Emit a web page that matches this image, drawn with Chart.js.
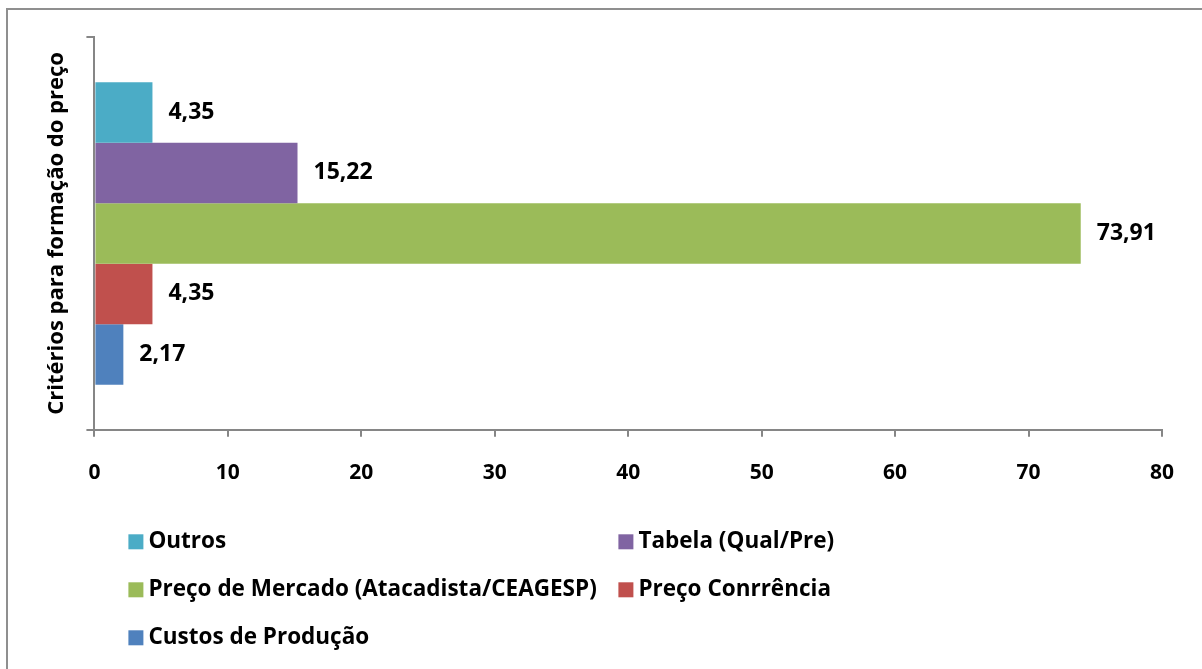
<!DOCTYPE html>
<html>
<head>
<meta charset="utf-8">
<script src="https://cdn.jsdelivr.net/npm/chart.js@4"></script>
<style>
  html, body { margin: 0; padding: 0; background: #fff; }
  #wrap { position: relative; width: 1202px; height: 669px; }
</style>
</head>
<body>
<div id="wrap"><canvas id="grafico" width="1202" height="669"></canvas></div>
<script>
// Dados do gráfico
const categorias = [''];
const series = ['Outros', 'Tabela (Qual/Pre)', 'Preço de Mercado (Atacadista/CEAGESP)', 'Preço Conrrência', 'Custos de Produção'];
const valores = [4.35, 15.22, 73.91, 4.35, 2.17];
const cores = ['#4BACC6', '#8064A2', '#9BBB59', '#C0504D', '#4F81BD'];
const ticksX = [0, 10, 20, 30, 40, 50, 60, 70, 80];
const tituloY = 'Critérios para formação do preço';

const FONTE = '"Open Sans", Lato, sans-serif';
const CINZA = '#868686';

// Moldura externa (só as bordas superior e esquerda aparecem)
const moldura = {
    id: 'moldura',
    beforeDraw(chart) {
        const ctx = chart.ctx;
        ctx.save();
        ctx.strokeStyle = '#8f8f8f';
        ctx.lineWidth = 2;
        ctx.beginPath();
        ctx.moveTo(7, 700);
        ctx.lineTo(7, 9);
        ctx.lineTo(1210, 9);
        ctx.stroke();
        ctx.restore();
    }
};

// Rótulos de valor à direita de cada barra
const rotulos = {
    id: 'rotulos',
    afterDatasetsDraw(chart) {
        const ctx = chart.ctx;
        ctx.save();
        ctx.font = 'bold 23px ' + FONTE;
        ctx.fillStyle = '#000';
        ctx.textAlign = 'left';
        ctx.textBaseline = 'middle';
        chart.data.datasets.forEach((ds, i) => {
            const bar = chart.getDatasetMeta(i).data[0];
            const txt = ds.data[0].toFixed(2).replace('.', ',');
            ctx.fillText(txt, bar.x + 16, bar.y);
        });
        ctx.restore();
    }
};

// Legenda em duas colunas
const legenda = {
    id: 'legenda',
    afterDraw(chart) {
        const ctx = chart.ctx;
        const area = chart.chartArea;
        ctx.save();
        ctx.font = 'bold 22.5px ' + FONTE;
        ctx.textBaseline = 'middle';
        ctx.textAlign = 'left';
        series.forEach((nome, i) => {
            const col = i % 2;
            const lin = Math.floor(i / 2);
            const x = area.left + 34 + col * 490;
            const y = area.bottom + 112 + lin * 48;
            ctx.fillStyle = cores[i];
            ctx.fillRect(x, y - 7.5, 15, 15);
            ctx.fillStyle = '#000';
            ctx.fillText(nome, x + 20, y);
        });
        ctx.restore();
    }
};

const datasets = series.map((nome, i) => ({
    label: nome,
    data: [valores[i]],
    backgroundColor: cores[i],
    borderWidth: 0,
    categoryPercentage: 0.77,
    barPercentage: 1.0
}));

const config = {
    type: 'bar',
    data: {
        labels: categorias,
        datasets: datasets
    },
    options: {
        indexAxis: 'y',
        responsive: false,
        animation: false,
        layout: {
            padding: { left: 40, top: 37, right: 40, bottom: 159 }
        },
        plugins: {
            legend: { display: false },
            tooltip: { enabled: false }
        },
        scales: {
            x: {
                min: 0,
                max: 80,
                afterBuildTicks: (axis) => {
                    axis.ticks = ticksX.map(v => ({ value: v }));
                },
                grid: {
                    drawOnChartArea: false,
                    color: CINZA,
                    lineWidth: 2,
                    tickLength: 7
                },
                border: { color: CINZA, width: 2 },
                ticks: {
                    color: '#000',
                    padding: 24,
                    font: { family: FONTE, size: 21, weight: 'bold' }
                }
            },
            y: {
                grid: {
                    drawOnChartArea: false,
                    color: CINZA,
                    lineWidth: 2,
                    tickLength: 8
                },
                border: { color: CINZA, width: 2 },
                ticks: { display: false },
                title: {
                    display: true,
                    text: tituloY,
                    color: '#000',
                    padding: { top: 4, bottom: 16 },
                    font: { family: FONTE, size: 22, weight: 'bold' }
                }
            }
        }
    },
    plugins: [moldura, rotulos, legenda]
};

const ctx = document.getElementById('grafico').getContext('2d');
new Chart(ctx, config);
</script>
</body>
</html>
